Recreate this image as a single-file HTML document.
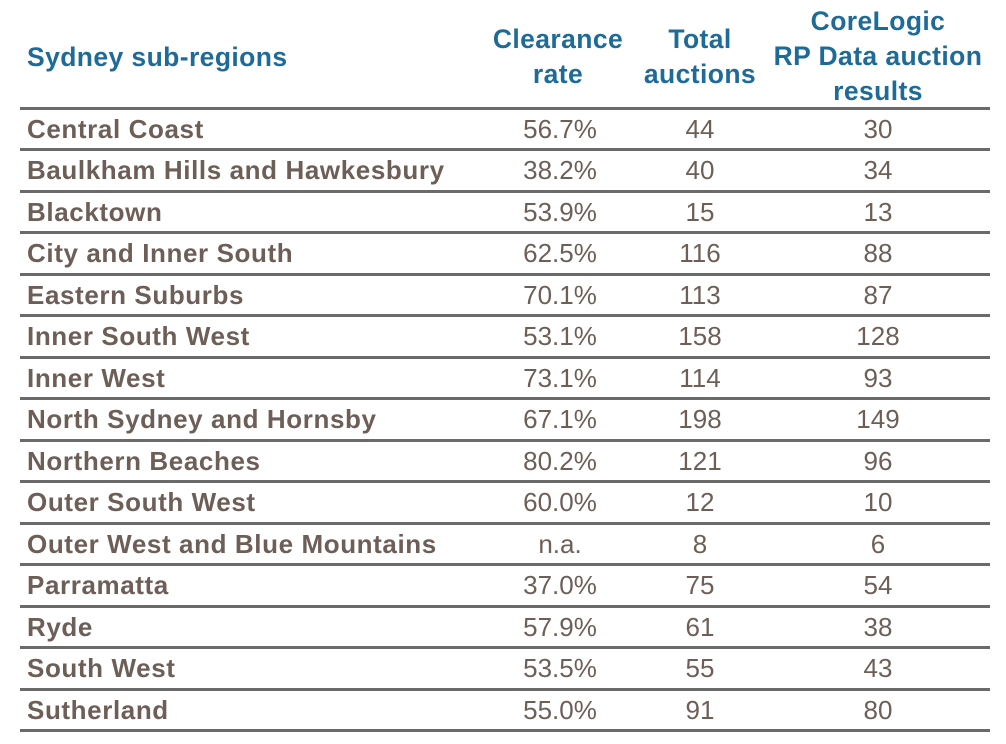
<!DOCTYPE html>
<html><head><style>
body{margin:0;width:1006px;height:744px;background:#fff;position:relative;overflow:hidden;font-family:"Liberation Sans",Arial,sans-serif}
.h{position:absolute;color:#1f6b98;font-weight:bold;font-size:26.5px;text-align:center;line-height:35px;letter-spacing:0.4px}
.l{position:absolute;left:20px;width:970px;height:3px;background:#6a6a6a}
.r{position:absolute;left:0;width:1006px;height:41px;line-height:41px;color:#6d5f58;font-size:26px}
.r span{position:absolute;top:0}
.n{font-weight:bold;left:27px;letter-spacing:0.6px}
.c{width:120px;text-align:center}
</style></head><body>
<div class="h" style="left:27px;top:40px;text-align:left">Sydney sub-regions</div>
<div class="h" style="left:478px;width:160px;top:22px">Clearance<br>rate</div>
<div class="h" style="left:630px;width:140px;top:22px">Total<br>auctions</div>
<div class="h" style="left:758px;width:240px;top:4px">CoreLogic<br>RP Data auction<br>results</div>
<div id="t"></div>
<script>
var d=[["Central Coast","56.7%",44,30],["Baulkham Hills and Hawkesbury","38.2%",40,34],["Blacktown","53.9%",15,13],["City and Inner South","62.5%",116,88],["Eastern Suburbs","70.1%",113,87],["Inner South West","53.1%",158,128],["Inner West","73.1%",114,93],["North Sydney and Hornsby","67.1%",198,149],["Northern Beaches","80.2%",121,96],["Outer South West","60.0%",12,10],["Outer West and Blue Mountains","n.a.",8,6],["Parramatta","37.0%",75,54],["Ryde","57.9%",61,38],["South West","53.5%",55,43],["Sutherland","55.0%",91,80]];
var h="",s=41.47,y0=107;
for(var i=0;i<=15;i++)h+='<div class="l" style="top:'+Math.round(y0+i*s)+'px"></div>';
d.forEach(function(r,i){var t=Math.round(y0+i*s+2);
h+='<div class="r" style="top:'+t+'px"><span class="n">'+r[0]+'</span><span class="c" style="left:500px">'+r[1]+'</span><span class="c" style="left:640px">'+r[2]+'</span><span class="c" style="left:818px">'+r[3]+'</span></div>';});
document.getElementById("t").innerHTML=h;
</script>
</body></html>
